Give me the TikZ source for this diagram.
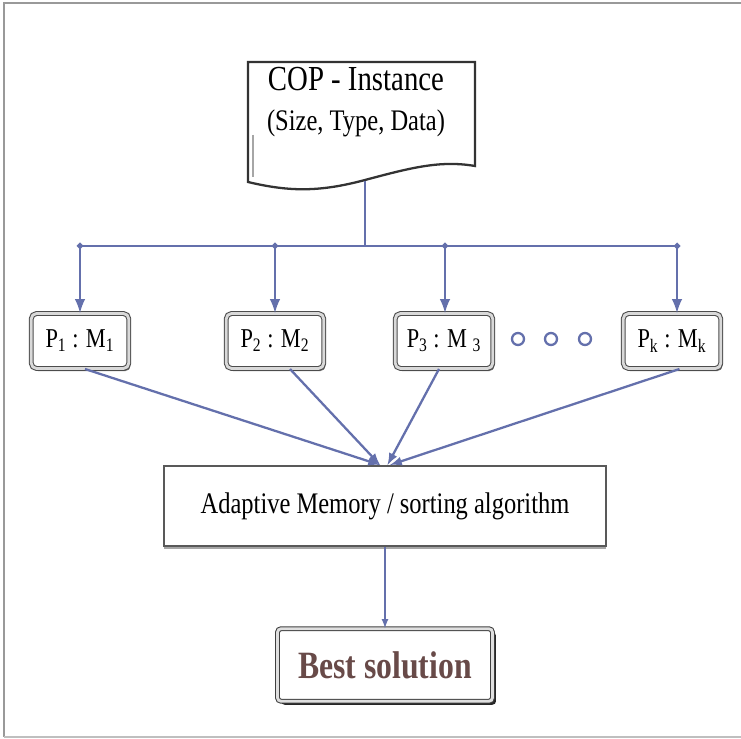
\documentclass[tikz,border=0pt]{standalone}
\usepackage{fontspec}
\setmainfont{Liberation Serif}[FakeStretch=0.82]
\usepackage{xcolor}
\usetikzlibrary{arrows,positioning,shadows}

\definecolor{linkblue}{RGB}{100,112,172}
\definecolor{bestbrown}{RGB}{104,74,72}

\begin{document}
\begin{tikzpicture}[
    x=0.02cm, y=-0.02cm,
    pmbox/.style={
      draw=black!70, line width=0.6pt, double=gray!30, double distance=1.6pt,
      rounded corners=3pt, fill=white,
      minimum width=1.95cm, minimum height=1.1cm,
      drop shadow={shadow xshift=1pt, shadow yshift=-1.5pt, fill=black!55, opacity=1},
      align=center, font=\fontsize{15.5}{18}\selectfont
    },
    memory/.style={
      draw=black!65, line width=1.2pt, fill=white,
      minimum width=8.85cm, minimum height=1.6cm,
      drop shadow={shadow xshift=0pt, shadow yshift=-1.5pt, fill=black!35, opacity=1},
      align=center, font=\fontsize{17}{19}\selectfont
    },
    best/.style={
      draw=black!75, line width=0.6pt, double=gray!25, double distance=1.6pt,
      rounded corners=2pt, fill=white,
      minimum width=4.3cm, minimum height=1.45cm,
      drop shadow={shadow xshift=2pt, shadow yshift=-2pt, fill=black!85, opacity=1},
      text=bestbrown, font=\fontsize{22}{25}\selectfont\bfseries
    },
    dotc/.style={
      circle, draw=linkblue, line width=1.3pt, fill=white,
      minimum size=0.24cm, inner sep=0pt
    },
    link/.style={linkblue, line width=1.7pt},
    >=latex
  ]

    \useasboundingbox (0,0) rectangle (741,739);

    % Frame
    \draw[gray!80, line width=1.4pt] (4,737) -- (4,3) -- (741,3);
    \draw[gray!50, line width=0.8pt] (4,737) -- (741,737);

    % Instance (document shape)
    \draw[black!80, line width=1.3pt, fill=white]
      (248,62) -- (475,62) -- (475,166)
      .. controls (440,160) and (410,168) .. (365,180)
      .. controls (320,192) and (290,192) .. (248,182) -- cycle;
    \draw[gray!70, line width=1pt] (253,135) -- (253,177);
    \node[align=center, font=\fontsize{20}{24}\selectfont] (cop) at (356,102)
      {COP - Instance\\[-1pt]{\fontsize{17}{20}\selectfont (Size, Type, Data)}};
    \coordinate (copout) at (365,181);

    % Bus
    \coordinate (bus) at (365,246);
    \coordinate (b1) at (80,246);
    \coordinate (b2) at (275,246);
    \coordinate (b3) at (445,246);
    \coordinate (bk) at (677,246);

    % Processors (middle row)
    \node[pmbox] (p1) at (80,341)  {P\textsubscript{1} : M\textsubscript{1}};
    \node[pmbox] (p2) at (275,341) {P\textsubscript{2} : M\textsubscript{2}};
    \node[pmbox] (p3) at (444,341) {P\textsubscript{3} : M \textsubscript{3}};
    \node[pmbox] (pk) at (672,341) {P\textsubscript{k} : M\textsubscript{k}};

    \node[dotc] (dot1) at (518,339) {};
    \node[dotc] (dot2) at (551,339) {};
    \node[dotc] (dot3) at (585,339) {};

    % Memory and result
    \node[memory] (mem)  at (385,506) {Adaptive Memory / sorting algorithm};
    \node[best]   (best) at (385,665) {Best solution};

    % Arrows: instance -> processors
    \draw[link, line width=1.3pt] (copout) -- (bus);
    \draw[link] (b1) -- (bk);
    \foreach \b in {b1,b2,b3,bk}
      \fill[linkblue] (\b) +(0,-3.5) -- +(3.5,0) -- +(0,3.5) -- +(-3.5,0) -- cycle;
    \draw[->, link] (b1) -- (b1 |- p1.north);
    \draw[->, link] (b2) -- (b2 |- p2.north);
    \draw[->, link] (b3) -- (b3 |- p3.north);
    \draw[->, link] (bk) -- (bk |- pk.north);

    % Processors -> memory
    \draw[->, link, line width=1.3pt] ([xshift=0.1cm]p1.south)  -- ([xshift=-0.1cm]mem.north);
    \draw[->, link, line width=1.3pt] ([xshift=0.3cm]p2.south)  -- ([xshift=-0.1cm]mem.north);
    \draw[->, link, line width=1.3pt] ([xshift=-0.1cm]p3.south) -- ([xshift=0.05cm]mem.north);
    \draw[->, link, line width=1.3pt] ([xshift=0.15cm]pk.south) -- ([xshift=0.1cm]mem.north);

    % Memory -> best solution
    \draw[->, link, line width=0.8pt] (mem.south) -- (best.north);

  \end{tikzpicture}
\end{document}
